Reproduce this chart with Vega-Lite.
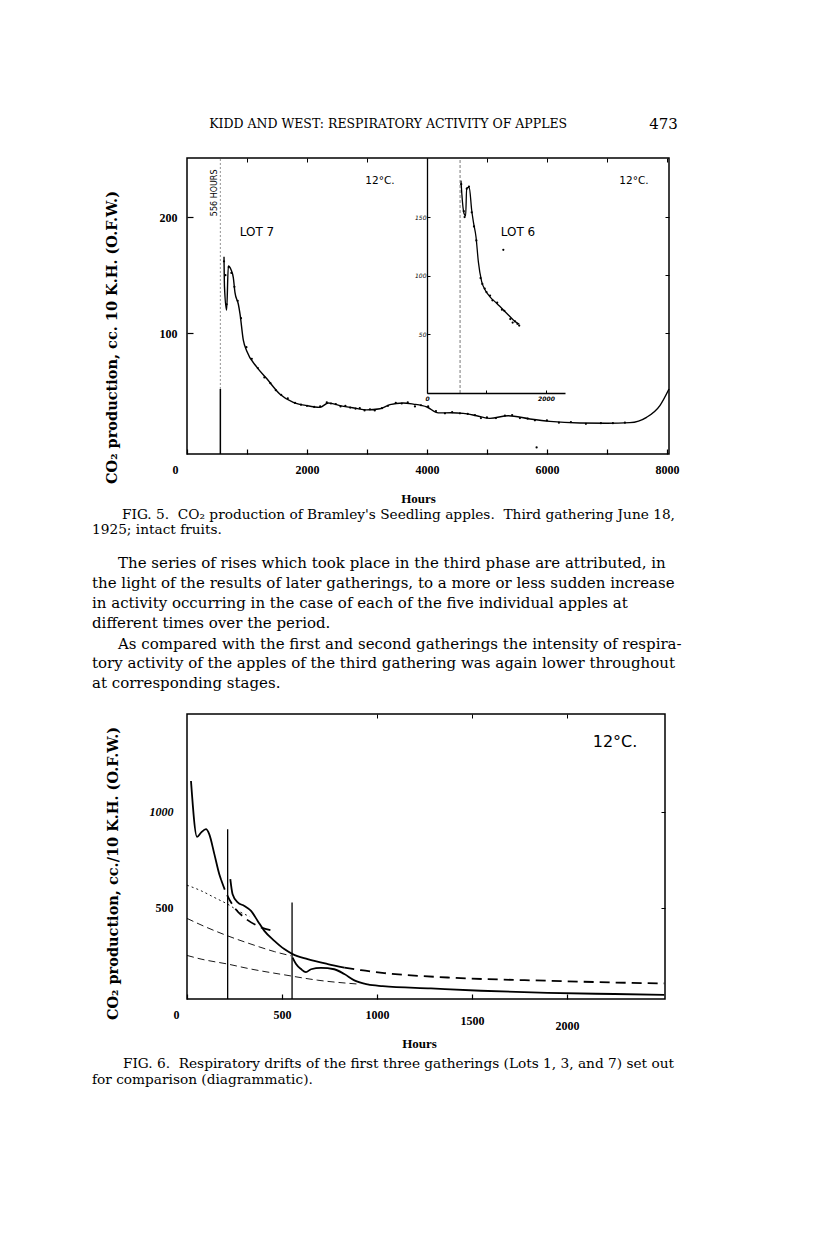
{
  "$schema": "https://vega.github.io/schema/vega-lite/v6.json",
  "background": "white",
  "padding": {"left": 92, "top": 110, "right": 5, "bottom": 5},
  "bounds": "flush",
  "spacing": 0,
  "config": {
    "view": {"stroke": null},
    "axis": {"grid": false, "domainColor": "black", "tickColor": "black", "labelColor": "black", "titleColor": "black", "labelFlush": false, "labelOverlap": false}
  },
  "datasets": {
    "lot7": [
      {"h": 617, "v": 166}, {"h": 625, "v": 140}, {"h": 661, "v": 120}, {"h": 689, "v": 158}, {"h": 733, "v": 155},
      {"h": 772, "v": 148}, {"h": 800, "v": 135}, {"h": 856, "v": 125}, {"h": 883, "v": 117}, {"h": 939, "v": 94},
      {"h": 994, "v": 85}, {"h": 1161, "v": 71}, {"h": 1328, "v": 61}, {"h": 1550, "v": 47.5}, {"h": 1772, "v": 40.5},
      {"h": 1994, "v": 37.7}, {"h": 2217, "v": 36.2}, {"h": 2356, "v": 40}, {"h": 2550, "v": 37.7}, {"h": 2800, "v": 35.5},
      {"h": 2994, "v": 34}, {"h": 3217, "v": 35}, {"h": 3383, "v": 38.5}, {"h": 3600, "v": 40}, {"h": 3772, "v": 39},
      {"h": 4000, "v": 36.5}, {"h": 4189, "v": 31.4}, {"h": 4400, "v": 31.5}, {"h": 4606, "v": 31}, {"h": 4828, "v": 29},
      {"h": 5050, "v": 26.7}, {"h": 5356, "v": 29}, {"h": 5717, "v": 26.2}, {"h": 6050, "v": 24.1}, {"h": 6550, "v": 22.7},
      {"h": 7000, "v": 22.5}, {"h": 7383, "v": 23}, {"h": 7661, "v": 27.6}, {"h": 7883, "v": 37.7}, {"h": 8035, "v": 52}
    ],
    "lot7pts": [
      {"h": 617, "v": 162}, {"h": 640, "v": 150}, {"h": 661, "v": 125}, {"h": 695, "v": 157}, {"h": 740, "v": 152},
      {"h": 790, "v": 140}, {"h": 845, "v": 128}, {"h": 900, "v": 113}, {"h": 990, "v": 88}, {"h": 1080, "v": 78},
      {"h": 1180, "v": 70}, {"h": 1290, "v": 62}, {"h": 1390, "v": 57}, {"h": 1480, "v": 51}, {"h": 1570, "v": 47},
      {"h": 1680, "v": 44}, {"h": 1800, "v": 40}, {"h": 1900, "v": 38.5}, {"h": 2000, "v": 37.5}, {"h": 2120, "v": 36.5},
      {"h": 2220, "v": 37}, {"h": 2330, "v": 40.5}, {"h": 2400, "v": 39.5}, {"h": 2480, "v": 39}, {"h": 2560, "v": 37},
      {"h": 2640, "v": 37.5}, {"h": 2720, "v": 36}, {"h": 2810, "v": 35}, {"h": 2880, "v": 35.5}, {"h": 2960, "v": 33.5},
      {"h": 3050, "v": 34.5}, {"h": 3130, "v": 33.5}, {"h": 3250, "v": 35.5}, {"h": 3350, "v": 37.5}, {"h": 3480, "v": 40},
      {"h": 3580, "v": 39.5}, {"h": 3680, "v": 40.5}, {"h": 3800, "v": 37}, {"h": 3900, "v": 38}, {"h": 4020, "v": 37},
      {"h": 4150, "v": 33}, {"h": 4300, "v": 31}, {"h": 4420, "v": 32}, {"h": 4550, "v": 31}, {"h": 4680, "v": 30.5},
      {"h": 4800, "v": 29.5}, {"h": 4900, "v": 27}, {"h": 5000, "v": 27.5}, {"h": 5150, "v": 27}, {"h": 5300, "v": 29},
      {"h": 5420, "v": 29.5}, {"h": 5550, "v": 27}, {"h": 5680, "v": 26.5}, {"h": 5800, "v": 25}, {"h": 6000, "v": 25},
      {"h": 6200, "v": 23}, {"h": 6400, "v": 23.5}, {"h": 6650, "v": 22}, {"h": 6900, "v": 22.5}, {"h": 7100, "v": 22.5},
      {"h": 7300, "v": 23}, {"h": 5828, "v": 1.7}
    ],
    "lot6": [
      {"h": 571, "v": 181}, {"h": 585, "v": 170}, {"h": 622, "v": 153}, {"h": 650, "v": 151}, {"h": 667, "v": 175},
      {"h": 711, "v": 175}, {"h": 751, "v": 156}, {"h": 779, "v": 146}, {"h": 824, "v": 133}, {"h": 863, "v": 112},
      {"h": 919, "v": 95}, {"h": 975, "v": 88}, {"h": 1059, "v": 82}, {"h": 1171, "v": 76.5}, {"h": 1339, "v": 68},
      {"h": 1451, "v": 62.3}, {"h": 1552, "v": 58.6}
    ],
    "lot6pts": [
      {"h": 575, "v": 178}, {"h": 618, "v": 155}, {"h": 632, "v": 150}, {"h": 668, "v": 174}, {"h": 705, "v": 176},
      {"h": 752, "v": 154}, {"h": 790, "v": 142}, {"h": 830, "v": 130}, {"h": 900, "v": 98}, {"h": 930, "v": 93},
      {"h": 970, "v": 89}, {"h": 1000, "v": 86}, {"h": 1060, "v": 83}, {"h": 1100, "v": 79}, {"h": 1180, "v": 77},
      {"h": 1260, "v": 71}, {"h": 1300, "v": 70}, {"h": 1400, "v": 63}, {"h": 1440, "v": 60}, {"h": 1480, "v": 61},
      {"h": 1520, "v": 59}, {"h": 1550, "v": 57.5}, {"h": 1283, "v": 122}
    ],
    "f6": [
      {"s": "lot1", "h": 21, "v": 1161}, {"s": "lot1", "h": 53, "v": 870}, {"s": "lot1", "h": 74, "v": 892}, {"s": "lot1", "h": 100, "v": 910},
      {"s": "lot1", "h": 117, "v": 884}, {"s": "lot1", "h": 144, "v": 780}, {"s": "lot1", "h": 170, "v": 675}, {"s": "lot1", "h": 180, "v": 645},
      {"s": "lot1x", "h": 180, "v": 645}, {"s": "lot1x", "h": 205, "v": 580}, {"s": "lot1x", "h": 249, "v": 502}, {"s": "lot1x", "h": 302, "v": 449},
      {"s": "lot1x", "h": 372, "v": 406}, {"s": "lot1x", "h": 468, "v": 377},
      {"s": "lot3", "h": 228, "v": 650}, {"s": "lot3", "h": 240, "v": 571}, {"s": "lot3", "h": 267, "v": 528}, {"s": "lot3", "h": 302, "v": 510},
      {"s": "lot3", "h": 337, "v": 484}, {"s": "lot3", "h": 372, "v": 432}, {"s": "lot3", "h": 407, "v": 380}, {"s": "lot3", "h": 460, "v": 328},
      {"s": "lot3", "h": 512, "v": 285}, {"s": "lot3", "h": 556, "v": 259}, {"s": "lot3", "h": 635, "v": 233}, {"s": "lot3", "h": 741, "v": 207},
      {"s": "lot3", "h": 828, "v": 189},
      {"s": "lot3x", "h": 828, "v": 189}, {"s": "lot3x", "h": 916, "v": 175}, {"s": "lot3x", "h": 1039, "v": 160}, {"s": "lot3x", "h": 1372, "v": 137},
      {"s": "lot3x", "h": 1898, "v": 120}, {"s": "lot3x", "h": 2249, "v": 111}, {"s": "lot3x", "h": 2512, "v": 106},
      {"s": "lot7", "h": 556, "v": 241}, {"s": "lot7", "h": 574, "v": 207}, {"s": "lot7", "h": 600, "v": 181}, {"s": "lot7", "h": 626, "v": 165},
      {"s": "lot7", "h": 653, "v": 180}, {"s": "lot7", "h": 705, "v": 187}, {"s": "lot7", "h": 775, "v": 180}, {"s": "lot7", "h": 828, "v": 155},
      {"s": "lot7", "h": 881, "v": 122}, {"s": "lot7", "h": 951, "v": 101}, {"s": "lot7", "h": 1030, "v": 92}, {"s": "lot7", "h": 1284, "v": 80},
      {"s": "lot7", "h": 1547, "v": 68}, {"s": "lot7", "h": 1898, "v": 57}, {"s": "lot7", "h": 2249, "v": 51}, {"s": "lot7", "h": 2512, "v": 47},
      {"s": "d1", "h": 0, "v": 618}, {"s": "d1", "h": 74, "v": 589}, {"s": "d1", "h": 144, "v": 554}, {"s": "d1", "h": 214, "v": 519},
      {"s": "d1", "h": 284, "v": 476}, {"s": "d1", "h": 330, "v": 455},
      {"s": "d2", "h": 0, "v": 445}, {"s": "d2", "h": 74, "v": 411}, {"s": "d2", "h": 214, "v": 354}, {"s": "d2", "h": 337, "v": 311},
      {"s": "d2", "h": 460, "v": 272}, {"s": "d2", "h": 547, "v": 250},
      {"s": "d3", "h": 0, "v": 252}, {"s": "d3", "h": 74, "v": 233}, {"s": "d3", "h": 214, "v": 207}, {"s": "d3", "h": 337, "v": 181},
      {"s": "d3", "h": 512, "v": 151}, {"s": "d3", "h": 688, "v": 123}, {"s": "d3", "h": 898, "v": 103}
    ]
  },
  "vconcat": [
    {
      "width": 488, "height": 47,
      "view": {"stroke": "white", "strokeWidth": 1},
      "layer": [
        {
          "data": {"values": [{"t": "KIDD AND WEST: RESPIRATORY ACTIVITY OF APPLES", "px": 0.508, "ln": 0.62}]},
          "mark": {"type": "text", "font": "DejaVu Serif", "fontSize": 12.5, "align": "center", "baseline": "middle", "color": "black"},
          "encoding": {
            "x": {"field": "px", "type": "quantitative", "scale": {"domain": [0, 1], "range": [-95, 488]}, "axis": null},
            "y": {"field": "ln", "type": "quantitative", "scale": {"domain": [0, 2.238], "range": [0, 47]}, "axis": null},
            "text": {"field": "t"}
          }
        },
        {
          "data": {"values": [{"t": "473", "px": 1.005, "ln": 0.62}]},
          "mark": {"type": "text", "font": "DejaVu Serif", "fontSize": 15, "align": "right", "baseline": "middle", "color": "black"},
          "encoding": {
            "x": {"field": "px", "type": "quantitative", "scale": {"domain": [0, 1], "range": [-95, 488]}, "axis": null},
            "y": {"field": "ln", "type": "quantitative", "scale": {"domain": [0, 2.238], "range": [0, 47]}, "axis": null},
            "text": {"field": "t"}
          }
        }
      ]
    },
    {
      "width": 482, "height": 296,
      "view": {"stroke": "black", "strokeWidth": 1.5},
      "resolve": {"scale": {"x": "independent", "y": "independent"}, "axis": {"x": "independent", "y": "independent"}},
      "layer": [
        {
          "resolve": {"axis": {"x": "independent", "y": "independent"}},
          "layer": [
            {
              "data": {"name": "lot7"},
              "mark": {"type": "line", "interpolate": "monotone", "color": "black", "strokeWidth": 1.4},
              "encoding": {
                "x": {"field": "h", "type": "quantitative", "scale": {"domain": [0, 8035], "nice": false, "zero": false},
                  "axis": {"orient": "bottom", "values": [0, 1000, 2000, 3000, 4000, 5000, 6000, 7000, 8000], "format": "d",
                    "labelExpr": "datum.value % 2000 == 0 ? datum.label : ''", "domain": false, "tickSize": -5, "tickWidth": 1.2,
                    "labelPadding": 15, "labelFont": "Liberation Serif", "labelFontWeight": "bold", "labelFontSize": 12,
                    "labelAlign": {"condition": {"test": "datum.value == 0", "value": "right"}, "value": "center"},
                    "labelOffset": {"condition": {"test": "datum.value == 0", "value": -9}, "value": 0},
                    "title": "Hours", "titleFont": "Liberation Serif", "titleFontWeight": "bold", "titleFontSize": 13,
                    "titleX": 231, "titleY": 44, "titleBaseline": "middle", "titleAlign": "center"}},
                "y": {"field": "v", "type": "quantitative", "scale": {"domain": [-4, 251], "nice": false, "zero": false},
                  "axis": {"orient": "left", "values": [100, 200], "domain": false, "tickSize": -6, "tickWidth": 1.2,
                    "labelPadding": 16, "labelFont": "Liberation Serif", "labelFontWeight": "bold", "labelFontSize": 12,
                    "title": "CO₂ production, cc. 10 K.H. (O.F.W.)", "titleFont": "DejaVu Serif", "titleFontWeight": "bold", "titleFontSize": 14.5,
                    "titleX": -75, "titleY": 179, "titleAngle": -90, "titleBaseline": "middle", "titleAlign": "center"}}
              }
            },
            {
              "data": {"name": "lot7pts"},
              "mark": {"type": "circle", "size": 5, "color": "black", "opacity": 1},
              "encoding": {
                "x": {"field": "h", "type": "quantitative", "axis": null},
                "y": {"field": "v", "type": "quantitative", "axis": null}
              }
            },
            {
              "data": {"values": [{"h": 556, "v0": -4, "v1": 52}]},
              "mark": {"type": "rule", "color": "black", "strokeWidth": 1.5},
              "encoding": {
                "x": {"field": "h", "type": "quantitative", "axis": null},
                "y": {"field": "v0", "type": "quantitative", "axis": null},
                "y2": {"field": "v1"}
              }
            },
            {
              "data": {"values": [{"h": 556, "v0": 52, "v1": 251}]},
              "mark": {"type": "rule", "color": "#777", "strokeWidth": 0.8, "strokeDash": [2, 2]},
              "encoding": {
                "x": {"field": "h", "type": "quantitative", "axis": null},
                "y": {"field": "v0", "type": "quantitative", "axis": null},
                "y2": {"field": "v1"}
              }
            },
            {
              "data": {"values": [{"h": 1167, "v": 187, "t": "LOT 7"}]},
              "mark": {"type": "text", "font": "DejaVu Sans", "fontSize": 12, "align": "center", "baseline": "middle", "color": "black"},
              "encoding": {
                "x": {"field": "h", "type": "quantitative", "axis": null},
                "y": {"field": "v", "type": "quantitative", "axis": null},
                "text": {"field": "t"}
              }
            },
            {
              "data": {"values": [{"h": 3217, "v": 231, "t": "12°C."}, {"h": 7450, "v": 231, "t": "12°C."}]},
              "mark": {"type": "text", "font": "DejaVu Sans", "fontSize": 10.5, "align": "center", "baseline": "middle", "color": "black"},
              "encoding": {
                "x": {"field": "h", "type": "quantitative", "axis": null},
                "y": {"field": "v", "type": "quantitative", "axis": null},
                "text": {"field": "t"}
              }
            },
            {
              "data": {"values": [{"h": 467, "v": 221, "t": "556 HOURS"}]},
              "mark": {"type": "text", "font": "DejaVu Sans", "fontSize": 8, "angle": 270, "align": "center", "baseline": "middle", "color": "black"},
              "encoding": {
                "x": {"field": "h", "type": "quantitative", "axis": null},
                "y": {"field": "v", "type": "quantitative", "axis": null},
                "text": {"field": "t"}
              }
            },
            {
              "data": {"name": "lot7"},
              "mark": {"type": "point", "opacity": 0},
              "encoding": {
                "x": {"field": "h", "type": "quantitative",
                  "axis": {"orient": "top", "values": [1000, 2000, 3000, 4000, 5000, 6000, 7000, 8000], "labels": false, "domain": false, "tickSize": -4, "title": null}},
                "y": {"field": "v", "type": "quantitative",
                  "axis": {"orient": "right", "values": [100, 150, 200], "labels": false, "domain": false, "tickSize": -4, "title": null}}
              }
            }
          ]
        },
        {
          "resolve": {"axis": {"x": "independent", "y": "independent"}},
          "layer": [
            {
              "data": {"name": "lot6"},
              "mark": {"type": "line", "interpolate": "monotone", "color": "black", "strokeWidth": 1.3},
              "encoding": {
                "x": {"field": "h", "type": "quantitative", "scale": {"domain": [0, 2320], "range": [240, 378], "nice": false, "zero": false},
                  "axis": {"orient": "bottom", "offset": -61, "values": [0, 1000, 2000], "format": "d", "domain": true, "domainColor": "black",
                    "labelExpr": "datum.value == 1000 ? '' : datum.label", "domainWidth": 1.3, "tickSize": -3,
                    "labelPadding": 5, "labelFont": "DejaVu Sans", "labelFontStyle": "italic", "labelFontWeight": "bold", "labelFontSize": 6, "title": null, "zindex": 2}},
                "y": {"field": "v", "type": "quantitative", "scale": {"domain": [0, 200.3], "range": [235, 0], "nice": false, "zero": false},
                  "axis": {"orient": "left", "offset": -240, "values": [50, 100, 150], "domain": true, "domainColor": "black", "domainWidth": 1.3, "tickSize": -3,
                    "labelPadding": 4, "labelFont": "DejaVu Sans", "labelFontStyle": "italic", "labelFontSize": 6, "title": null, "zindex": 2}}
              }
            },
            {
              "data": {"name": "lot6pts"},
              "mark": {"type": "circle", "size": 5, "color": "black", "opacity": 1},
              "encoding": {
                "x": {"field": "h", "type": "quantitative", "axis": null},
                "y": {"field": "v", "type": "quantitative", "axis": null}
              }
            },
            {
              "data": {"values": [{"h": 556, "v0": 0, "v1": 200.3}]},
              "mark": {"type": "rule", "color": "#555", "strokeWidth": 0.8, "strokeDash": [3, 2]},
              "encoding": {
                "x": {"field": "h", "type": "quantitative", "axis": null},
                "y": {"field": "v0", "type": "quantitative", "axis": null},
                "y2": {"field": "v1"}
              }
            },
            {
              "data": {"values": [{"h": 1529, "v": 137.6, "t": "LOT 6"}]},
              "mark": {"type": "text", "font": "DejaVu Sans", "fontSize": 12, "align": "center", "baseline": "middle", "color": "black"},
              "encoding": {
                "x": {"field": "h", "type": "quantitative", "axis": null},
                "y": {"field": "v", "type": "quantitative", "axis": null},
                "text": {"field": "t"}
              }
            }
          ]
        }
      ]
    },
    {
      "width": 488, "height": 260,
      "data": {"values": [
        {"t": "FIG. 5.\u00a0\u00a0CO₂ production of Bramley's Seedling apples.\u00a0\u00a0Third gathering June 18,", "px": 0.0515, "ln": 3.048, "k": "cap"},
        {"t": "1925; intact fruits.", "px": 0, "ln": 3.81, "k": "cap"},
        {"t": "The series of rises which took place in the third phase are attributed, in", "px": 0.0446, "ln": 5.43, "k": "par"},
        {"t": "the light of the results of later gatherings, to a more or less sudden increase", "px": 0, "ln": 6.43, "k": "par"},
        {"t": "in activity occurring in the case of each of the five individual apples at", "px": 0, "ln": 7.43, "k": "par"},
        {"t": "different times over the period.", "px": 0, "ln": 8.43, "k": "par"},
        {"t": "As compared with the first and second gatherings the intensity of respira-", "px": 0.0446, "ln": 9.476, "k": "par"},
        {"t": "tory activity of the apples of the third gathering was again lower throughout", "px": 0, "ln": 10.43, "k": "par"},
        {"t": "at corresponding stages.", "px": 0, "ln": 11.43, "k": "par"}
      ]},
      "layer": [
        {
          "transform": [{"filter": {"field": "k", "equal": "cap"}}],
          "mark": {"type": "text", "font": "DejaVu Serif", "fontSize": 13.7, "align": "left", "baseline": "middle", "color": "black"},
          "encoding": {
            "x": {"field": "px", "type": "quantitative", "scale": {"domain": [0, 1], "range": [-95, 488]}, "axis": null},
            "y": {"field": "ln", "type": "quantitative", "scale": {"domain": [0, 12.381], "range": [0, 260]}, "axis": null},
            "text": {"field": "t"}
          }
        },
        {
          "transform": [{"filter": {"field": "k", "equal": "par"}}],
          "mark": {"type": "text", "font": "DejaVu Serif", "fontSize": 15, "align": "left", "baseline": "middle", "color": "black"},
          "encoding": {
            "x": {"field": "px", "type": "quantitative", "axis": null},
            "y": {"field": "ln", "type": "quantitative", "axis": null},
            "text": {"field": "t"}
          }
        }
      ]
    },
    {
      "width": 478, "height": 285,
      "view": {"stroke": "black", "strokeWidth": 1.5},
      "resolve": {"axis": {"x": "independent", "y": "independent"}},
      "layer": [
        {
          "data": {"name": "f6"},
          "transform": [{"filter": {"field": "s", "oneOf": ["lot1", "lot3", "lot7"]}}],
          "mark": {"type": "line", "interpolate": "monotone", "color": "black", "strokeWidth": 1.8},
          "encoding": {
            "detail": {"field": "s"},
            "x": {"field": "h", "type": "quantitative", "scale": {"domain": [0, 2516], "nice": false, "zero": false},
              "axis": {"orient": "bottom", "values": [0, 500, 1000, 1500, 2000], "format": "d", "domain": false, "tickSize": -5, "tickWidth": 1.2,
                "labelPadding": {"condition": [{"test": "datum.value == 2000", "value": 26}, {"test": "datum.value == 1500", "value": 21}], "value": 15},
                "labelFont": "Liberation Serif", "labelFontWeight": "bold", "labelFontSize": 12,
                "labelAlign": {"condition": {"test": "datum.value == 0", "value": "right"}, "value": "center"},
                "labelOffset": {"condition": {"test": "datum.value == 0", "value": -8}, "value": 0},
                "title": "Hours", "titleFont": "Liberation Serif", "titleFontWeight": "bold", "titleFontSize": 13,
                "titleX": 232, "titleY": 44, "titleBaseline": "middle", "titleAlign": "center"}},
            "y": {"field": "v", "type": "quantitative", "scale": {"domain": [25, 1510], "nice": false, "zero": false},
              "axis": {"orient": "left", "values": [500, 1000], "format": "d", "domain": false, "tickSize": 0,
                "labelPadding": 14, "labelFont": "Liberation Serif", "labelFontWeight": "bold", "labelFontSize": 12,
                "labelFontStyle": {"condition": {"test": "datum.value == 1000", "value": "italic"}, "value": "normal"},
                "title": "CO₂ production, cc./10 K.H. (O.F.W.)", "titleFont": "DejaVu Serif", "titleFontWeight": "bold", "titleFontSize": 14.5,
                "titleX": -74, "titleY": 159, "titleAngle": -90, "titleBaseline": "middle", "titleAlign": "center"}}
          }
        },
        {
          "data": {"name": "f6"},
          "transform": [{"filter": {"field": "s", "oneOf": ["lot1x", "lot3x"]}}],
          "mark": {"type": "line", "interpolate": "monotone", "color": "black", "strokeWidth": 1.8, "strokeDash": [10, 6]},
          "encoding": {
            "detail": {"field": "s"},
            "x": {"field": "h", "type": "quantitative", "axis": null},
            "y": {"field": "v", "type": "quantitative", "axis": null}
          }
        },
        {
          "data": {"name": "f6"},
          "transform": [{"filter": {"field": "s", "equal": "d1"}}],
          "mark": {"type": "line", "interpolate": "monotone", "color": "black", "strokeWidth": 0.9, "strokeDash": [2, 3]},
          "encoding": {
            "x": {"field": "h", "type": "quantitative", "axis": null},
            "y": {"field": "v", "type": "quantitative", "axis": null}
          }
        },
        {
          "data": {"name": "f6"},
          "transform": [{"filter": {"field": "s", "oneOf": ["d2", "d3"]}}],
          "mark": {"type": "line", "interpolate": "monotone", "color": "black", "strokeWidth": 0.9, "strokeDash": [7, 4]},
          "encoding": {
            "detail": {"field": "s"},
            "x": {"field": "h", "type": "quantitative", "axis": null},
            "y": {"field": "v", "type": "quantitative", "axis": null}
          }
        },
        {
          "data": {"values": [{"h": 214, "v0": 25, "v1": 910}, {"h": 553, "v0": 25, "v1": 528}]},
          "mark": {"type": "rule", "color": "black", "strokeWidth": 1.3},
          "encoding": {
            "x": {"field": "h", "type": "quantitative", "axis": null},
            "y": {"field": "v0", "type": "quantitative", "axis": null},
            "y2": {"field": "v1"}
          }
        },
        {
          "data": {"values": [{"h": 2253, "v": 1365, "t": "12°C."}]},
          "mark": {"type": "text", "font": "DejaVu Sans", "fontSize": 16, "align": "center", "baseline": "middle", "color": "black"},
          "encoding": {
            "x": {"field": "h", "type": "quantitative", "axis": null},
            "y": {"field": "v", "type": "quantitative", "axis": null},
            "text": {"field": "t"}
          }
        },
        {
          "data": {"name": "f6"},
          "mark": {"type": "point", "opacity": 0},
          "encoding": {
            "x": {"field": "h", "type": "quantitative",
              "axis": {"orient": "top", "values": [1000, 1500, 2000], "labels": false, "domain": false, "tickSize": -4, "title": null}},
            "y": {"field": "v", "type": "quantitative",
              "axis": {"orient": "right", "values": [500, 1000], "labels": false, "domain": false, "tickSize": -4, "title": null}}
          }
        }
      ]
    },
    {
      "width": 488, "height": 100,
      "data": {"values": [
        {"t": "FIG. 6.\u00a0\u00a0Respiratory drifts of the first three gatherings (Lots 1, 3, and 7) set out", "px": 0.053, "ln": 3.095},
        {"t": "for comparison (diagrammatic).", "px": 0, "ln": 3.857}
      ]},
      "mark": {"type": "text", "font": "DejaVu Serif", "fontSize": 13.7, "align": "left", "baseline": "middle", "color": "black"},
      "encoding": {
        "x": {"field": "px", "type": "quantitative", "scale": {"domain": [0, 1], "range": [-95, 488]}, "axis": null},
        "y": {"field": "ln", "type": "quantitative", "scale": {"domain": [0, 4.762], "range": [0, 100]}, "axis": null},
        "text": {"field": "t"}
      }
    }
  ]
}
